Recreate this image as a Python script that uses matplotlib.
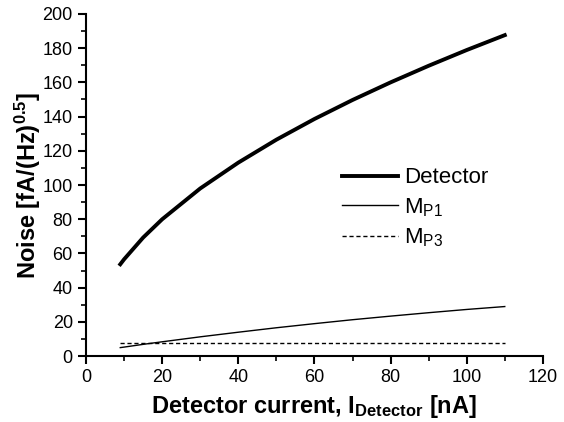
import matplotlib
matplotlib.use("Agg")
import matplotlib.pyplot as plt
from matplotlib.ticker import MultipleLocator

plt.rcParams['font.family'] = ['Liberation Sans', 'DejaVu Sans']
plt.rcParams['mathtext.default'] = 'regular'

# values
current = [9, 10, 15, 20, 30, 40, 50, 60, 70, 80, 90, 100, 110]
detector = [53.7, 56.6, 69.3, 80.0, 98.0, 113.1, 126.5, 138.6, 149.7, 160.0, 169.7, 178.9, 187.6]
mp1 = [5.0, 5.3, 6.9, 8.4, 11.3, 14.0, 16.6, 19.0, 21.3, 23.4, 25.4, 27.3, 29.0]
mp3 = [7.5, 7.5, 7.5, 7.5, 7.5, 7.5, 7.5, 7.5, 7.5, 7.5, 7.5, 7.5, 7.5]

fig = plt.figure(figsize=(5.64, 4.22), dpi=100)
ax = fig.add_axes([0.1525, 0.156, 0.81, 0.811])

ax.plot(current, detector, color='black', lw=2.8, label='Detector')
ax.plot(current, mp1, color='black', lw=1.0, label='M$_{P1}$')
ax.plot(current, mp3, color='black', lw=1.0, ls=(0, (3, 2)), label='M$_{P3}$')

ax.set_xlim(0, 120)
ax.set_ylim(0, 200)
ax.xaxis.set_major_locator(MultipleLocator(20))
ax.xaxis.set_minor_locator(MultipleLocator(10))
ax.yaxis.set_major_locator(MultipleLocator(20))
ax.yaxis.set_minor_locator(MultipleLocator(10))
ax.spines['top'].set_visible(False)
ax.spines['right'].set_visible(False)
ax.spines['left'].set_linewidth(1.5)
ax.spines['bottom'].set_linewidth(1.5)
ax.tick_params(which='major', direction='out', length=6, width=1.5, labelsize=13)
ax.tick_params(which='minor', direction='out', length=3.5, width=1.2)

ax.set_xlabel('Detector current, I$_{Detector}$ [nA]', fontsize=17, fontweight='bold', labelpad=5)
ax.set_ylabel('Noise [fA/(Hz)$^{0.5}$]', fontsize=17, fontweight='bold', labelpad=0)

leg = ax.legend(loc='upper left', bbox_to_anchor=(0.517, 0.61), frameon=False, fontsize=16,
                handlelength=2.5, handletextpad=0.3, labelspacing=0.35)

plt.savefig("out.png", dpi=100)
